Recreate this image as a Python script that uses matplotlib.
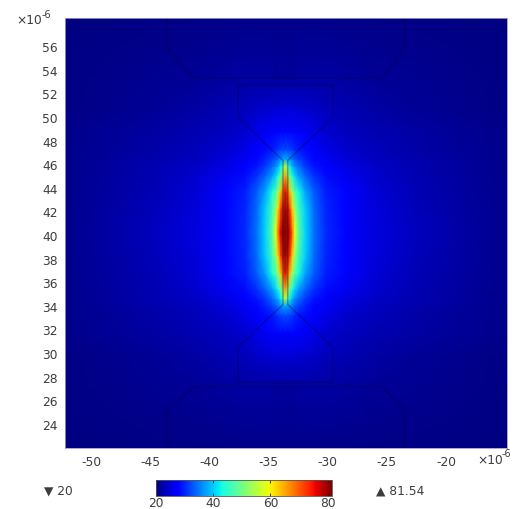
import numpy as np
import matplotlib
matplotlib.use("Agg")
import matplotlib.pyplot as plt
from matplotlib.cm import ScalarMappable
from matplotlib.colors import Normalize

plt.rcParams["axes.unicode_minus"] = False

W, H = 514, 509
TEXT = "#3c3c3c"

x_ticks = [-50, -45, -40, -35, -30, -25, -20]
y_ticks = [24, 26, 28, 30, 32, 34, 36, 38, 40, 42, 44, 46, 48, 50, 52, 54, 56]
cbar_ticks = [20, 40, 60, 80]
min_label = "▼ 20"
max_label = "▲ 81.54"

# field centre, then one quadrant of the field (um)
x_centre = -33.6
y_centre = 40.3
dx = [0, 0.38, 0.6, 0.8, 1.1, 1.7, 2.4, 3.4, 5.1, 7.6, 11, 19]
dy = [0, 2, 3.5, 4.8, 5.6, 6.2, 7, 8.5, 10.5, 13, 19]
field = [
    [81.5, 76, 68, 58, 48, 40, 34.5, 30, 27.5, 25, 23.3, 20.7],
    [79, 71, 61, 52, 46, 39.5, 34, 29.8, 27.2, 24.8, 23.2, 20.7],
    [75, 62, 52, 47, 42.5, 37, 33, 29.2, 26.7, 24.5, 23, 20.7],
    [64, 48, 43, 40, 37, 33.5, 30.5, 28, 26, 24.2, 22.8, 20.6],
    [55, 42, 38, 36, 34, 31, 28.8, 26.9, 25.3, 23.8, 22.6, 20.6],
    [38, 36, 34.5, 33, 31.5, 29.5, 27.8, 26.2, 24.8, 23.5, 22.4, 20.6],
    [32, 31.5, 31, 30, 29, 28, 26.8, 25.4, 24.2, 23.1, 22.2, 20.5],
    [27.5, 27.5, 27.3, 27.1, 26.8, 26.3, 25.5, 24.4, 23.4, 22.6, 21.9, 20.5],
    [24.5, 24.5, 24.5, 24.5, 24.4, 24.2, 23.8, 23.2, 22.6, 22, 21.4, 20.4],
    [21.8, 21.8, 21.8, 21.8, 21.9, 22, 22, 21.9, 21.7, 21.4, 21, 20.3],
    [20.4, 20.4, 20.4, 20.4, 20.4, 20.4, 20.4, 20.4, 20.4, 20.4, 20.3, 20.1],
]

# device outline
top_pad_x = [-43.6, -43.6, -41.5, -25.4, -23.5, -23.5]
top_pad_y = [58.5, 55.9, 53.4, 53.4, 55.9, 58.5]
bottom_pad_x = [-43.6, -43.6, -41.3, -25.4, -23.5, -23.5]
bottom_pad_y = [22.0, 25.3, 27.2, 27.2, 25.3, 22.0]
bridge_x = [-37.6, -37.6, -33.8, -33.8, -37.6, -37.6, -29.6, -29.6, -33.4, -33.4, -29.6, -29.6, -37.6]
bridge_y = [52.8, 50.0, 46.4, 34.2, 30.6, 27.6, 27.6, 30.6, 34.2, 46.4, 50.0, 52.8, 52.8]


def pxRect(left, top, right, bottom):
    return [left / W, 1 - bottom / H, (right - left) / W, (bottom - top) / H]


def pxText(fig, x, y, s, **kw):
    fig.text(x / W, 1 - y / H, s, color=TEXT, va="center", **kw)


def mirrored():
    # the picture is close to symmetric, so unfold the quadrant
    qx = np.array(dx)
    qy = np.array(dy)
    q = np.array(field)
    x = np.concatenate([-qx[:0:-1], qx]) + x_centre
    y = np.concatenate([-qy[:0:-1], qy]) + y_centre
    z = np.hstack([q[:, :0:-1], q])
    z = np.vstack([z[:0:-1], z])
    return x, y, z


fig = plt.figure(figsize=(W / 100, H / 100), dpi=100)
ax = fig.add_axes(pxRect(65, 18, 507, 448))
ax.set_facecolor("#00008f")

x, y, z = mirrored()
norm = Normalize(20, 80)
ax.pcolormesh(x, y, z, cmap="jet", norm=norm, shading="gouraud", rasterized=True)

for ox, oy in [(top_pad_x, top_pad_y), (bottom_pad_x, bottom_pad_y), (bridge_x, bridge_y)]:
    ax.plot(ox, oy, color="#000030", alpha=0.3, linewidth=1.1)

ax.set_xlim(-52.26, -14.83)
ax.set_ylim(22.03, 58.47)
ax.set_xticks(x_ticks)
ax.set_yticks(y_ticks)
ax.tick_params(length=0, labelsize=8.8, labelcolor=TEXT, pad=5)
ax.tick_params(axis="x", pad=6)
for s in ax.spines.values():
    s.set_color("#9a9ad0")
    s.set_linewidth(0.6)

pxText(fig, 16, 21, "×10", fontsize=8.8)
pxText(fig, 42, 15, "-6", fontsize=7)
pxText(fig, 477, 460, "×10", fontsize=8.8)
pxText(fig, 502, 454, "-6", fontsize=7)

cax = fig.add_axes(pxRect(156, 480, 332, 496))
cb = fig.colorbar(ScalarMappable(norm=Normalize(20, 81.54), cmap="jet"), cax=cax, orientation="horizontal")
cb.set_ticks(cbar_ticks)
cax.tick_params(direction="in", length=2, width=0.6, color="#222222", labelsize=8.8, labelcolor=TEXT, pad=1, top=True)
cb.outline.set_edgecolor("#555555")
cb.outline.set_linewidth(0.6)

pxText(fig, 44, 491, min_label, fontsize=8.8)
pxText(fig, 376, 491, max_label, fontsize=8.8)

fig.savefig("out.png", dpi=100)
